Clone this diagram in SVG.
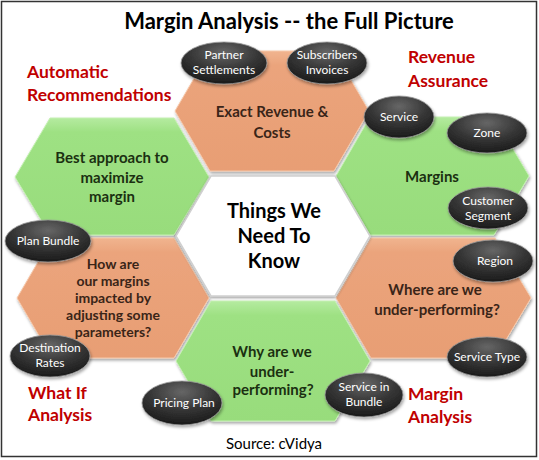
<svg xmlns="http://www.w3.org/2000/svg" width="539" height="460" viewBox="0 0 539 460">
<defs>
<linearGradient id="gOr" x1="0" y1="0" x2="0" y2="1"><stop offset="0" stop-color="#F0B48F"/><stop offset="0.12" stop-color="#EBA47C"/><stop offset="1" stop-color="#E89E74"/></linearGradient>
<linearGradient id="gGr" x1="0" y1="0" x2="0" y2="1"><stop offset="0" stop-color="#B5EBA0"/><stop offset="0.12" stop-color="#9EE183"/><stop offset="1" stop-color="#98DC7C"/></linearGradient>
<radialGradient id="gEl" cx="0.5" cy="0.25" r="0.75"><stop offset="0" stop-color="#666"/><stop offset="0.55" stop-color="#353535"/><stop offset="1" stop-color="#1a1a1a"/></radialGradient>
<filter id="sh" x="-20%" y="-20%" width="140%" height="140%"><feDropShadow dx="1" dy="2" stdDeviation="1.5" flood-color="#000" flood-opacity="0.35"/></filter>
<filter id="shw" x="-20%" y="-20%" width="140%" height="140%"><feDropShadow dx="0" dy="1" stdDeviation="1.6" flood-color="#000" flood-opacity="0.45"/></filter>
</defs>
<style>
.or{fill:url(#gOr);stroke:#F6C8AA;stroke-width:1;filter:url(#sh)}
.gr{fill:url(#gGr);stroke:#C4F0B2;stroke-width:1;filter:url(#sh)}
.wh{fill:#fff;stroke:#d0d0d0;stroke-width:1.5;filter:url(#shw)}
.el{fill:url(#gEl);stroke:#9a9a9a;stroke-width:0.8;filter:url(#sh)}
.et{font-family:Lato,"Liberation Sans",sans-serif;font-size:12px;fill:#fff;text-anchor:middle}
.ht{font-family:Lato,"Liberation Sans",sans-serif;font-weight:bold;font-size:15px;text-anchor:middle}
.hs{font-size:14px}
.ot{fill:#3a2518}
.gt{fill:#1b3011}
.ct{font-family:Lato,"Liberation Sans",sans-serif;font-weight:bold;font-size:20px;text-anchor:middle;fill:#000}
.rl{font-family:Lato,"Liberation Sans",sans-serif;font-weight:bold;font-size:17.5px;fill:#C00000}
</style>
<rect x="0" y="0" width="539" height="460" fill="#fff"/>
<rect x="1.5" y="1.5" width="535" height="455" fill="none" stroke="#333" stroke-width="1.5"/>
<text x="289" y="29" font-family="Lato,'Liberation Sans',sans-serif" font-weight="bold" font-size="22" text-anchor="middle" fill="#000">Margin Analysis -- the Full Picture</text>

<g id="hex-top"><polygon class="or" points="175,111 210,51 334,51 369,111 334,171 210,171"/>
<text class="ht ot" x="272" y="117">Exact Revenue &amp;</text><text class="ht ot" x="272" y="138">Costs</text></g>
<g id="hex-left-upper"><polygon class="gr" points="15,177 50,118 174,118 209,177 174,235 50,235"/>
<text class="ht gt" x="112" y="163">Best approach to</text><text class="ht gt" x="112" y="183">maximize</text><text class="ht gt" x="112" y="202">margin</text></g>
<g id="hex-right-upper"><polygon class="gr" points="336,176 370,117 494,117 529,176 494,235 370,235"/>
<text class="ht gt" x="432" y="182">Margins</text></g>
<g id="hex-left-lower"><polygon class="or" points="17,298 52,238 174,238 209,298 174,358 52,358"/>
<text class="ht hs ot" x="113" y="269">How are</text><text class="ht hs ot" x="113" y="286">our margins</text><text class="ht hs ot" x="113" y="303">impacted by</text><text class="ht hs ot" x="113" y="320">adjusting some</text><text class="ht hs ot" x="113" y="337">parameters?</text></g>
<g id="hex-right-lower"><polygon class="or" points="336,298 371,238 495,238 531,298 495,358 371,358"/>
<text class="ht ot" x="435" y="295">Where are we</text><text class="ht ot" x="437" y="315">under-performing?</text></g>
<g id="hex-bottom"><polygon class="gr" points="176,361 211,301 335,301 370,361 335,421 211,421"/>
<text class="ht gt" x="272" y="357">Why are we</text><text class="ht gt" x="272" y="377">under-</text><text class="ht gt" x="273" y="395">performing?</text></g>
<g id="hex-center"><polygon class="wh" points="176,236 211,176 335,176 370,236 335,296 211,296"/>
<text class="ct" x="274" y="218">Things We</text>
<text class="ct" x="274" y="243">Need To</text>
<text class="ct" x="274" y="268">Know</text></g>

<g id="ell-partner"><ellipse class="el" cx="224" cy="63" rx="43" ry="21"/><text class="et" x="224" y="59">Partner</text><text class="et" x="224" y="74">Settlements</text></g>
<g id="ell-subscribers"><ellipse class="el" cx="327" cy="63" rx="40" ry="21"/><text class="et" x="327" y="59">Subscribers</text><text class="et" x="327" y="74">Invoices</text></g>
<g id="ell-service"><ellipse class="el" cx="399" cy="117" rx="35" ry="21"/><text class="et" x="399" y="121">Service</text></g>
<g id="ell-zone"><ellipse class="el" cx="487" cy="133" rx="40" ry="20"/><text class="et" x="487" y="137">Zone</text></g>
<g id="ell-customer"><ellipse class="el" cx="488" cy="208" rx="40" ry="21"/><text class="et" x="488" y="205">Customer</text><text class="et" x="488" y="220">Segment</text></g>
<g id="ell-region"><ellipse class="el" cx="493" cy="261" rx="40" ry="21"/><text class="et" x="495" y="265">Region</text></g>
<g id="ell-servicetype"><ellipse class="el" cx="487" cy="357" rx="40" ry="20"/><text class="et" x="487" y="361">Service Type</text></g>
<g id="ell-serviceinbundle"><ellipse class="el" cx="364" cy="395" rx="39" ry="22"/><text class="et" x="364" y="391">Service in</text><text class="et" x="364" y="406">Bundle</text></g>
<g id="ell-pricingplan"><ellipse class="el" cx="182" cy="403" rx="40" ry="22"/><text class="et" x="184" y="407">Pricing Plan</text></g>
<g id="ell-planbundle"><ellipse class="el" cx="48" cy="241" rx="43" ry="21"/><text class="et" x="48" y="245">Plan Bundle</text></g>
<g id="ell-destination"><ellipse class="el" cx="50" cy="356" rx="40" ry="21"/><text class="et" x="50" y="352">Destination</text><text class="et" x="50" y="367">Rates</text></g>

<g id="lbl-auto"><text class="rl" x="27" y="78">Automatic</text><text class="rl" x="27" y="101">Recommendations</text></g>
<g id="lbl-ra"><text class="rl" x="408" y="63">Revenue</text><text class="rl" x="408" y="87">Assurance</text></g>
<g id="lbl-whatif"><text class="rl" x="28" y="399">What If</text><text class="rl" x="28" y="421">Analysis</text></g>
<g id="lbl-ma"><text class="rl" x="408" y="400">Margin</text><text class="rl" x="408" y="423">Analysis</text></g>
<text x="274" y="449" font-family="Lato,'Liberation Sans',sans-serif" font-size="15" text-anchor="middle" fill="#000">Source: cVidya</text>
</svg>
